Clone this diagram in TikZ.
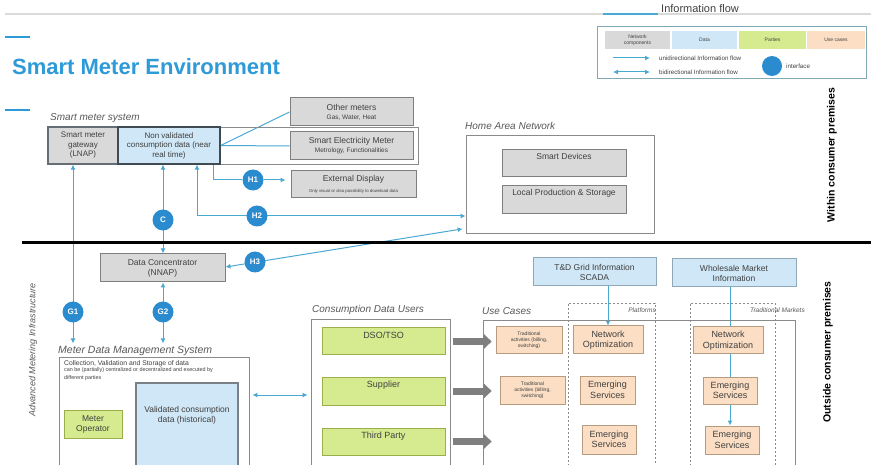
\documentclass[tikz,border=0pt]{standalone}
\usepackage{fontspec}
\setmainfont{Liberation Sans}
\usetikzlibrary{arrows.meta,calc}

\definecolor{flow}{HTML}{4AA9D3}
\definecolor{ifc}{HTML}{2A8BCF}
\definecolor{titleblue}{HTML}{2E9AD8}
\definecolor{netgray}{HTML}{D9D9D9}
\definecolor{netborder}{HTML}{7F7F7F}
\definecolor{datablue}{HTML}{CFE7F6}
\definecolor{databorder}{HTML}{8FA9B8}
\definecolor{darkborder}{HTML}{3F4A52}
\definecolor{partygreen}{HTML}{D6EB8F}
\definecolor{partyborder}{HTML}{9AAF4C}
\definecolor{usepeach}{HTML}{FBDEC4}
\definecolor{useborder}{HTML}{B59C80}
\definecolor{framegray}{HTML}{8A8A8A}
\definecolor{textgray}{HTML}{404040}
\definecolor{labelgray}{HTML}{595959}
\definecolor{bigarrowgray}{HTML}{7F7F7F}
\definecolor{rulegray}{HTML}{DADADA}
\definecolor{legendframe}{HTML}{7FA9B6}

\newcommand\fsz[2]{\fontsize{#1}{#2}\selectfont}

\pgfdeclarelayer{paper}
\pgfdeclarelayer{wires}
\pgfsetlayers{paper,wires,main}

\tikzset{
  frame/.style={draw=framegray, line width=0.8pt},
  graybox/.style={draw=netborder, fill=netgray, line width=1pt},
  bluebox/.style={draw=databorder, fill=datablue, line width=1pt},
  darkbluebox/.style={draw=darkborder, fill=datablue, line width=1.2pt},
  greenbox/.style={draw=partyborder, fill=partygreen, line width=1pt},
  peachbox/.style={draw=useborder, fill=usepeach, line width=1pt},
  dashbox/.style={draw=framegray, line width=0.8pt, dash pattern=on 2pt off 2pt},
  ifcircle/.style={circle, fill=ifc, text=white, font=\fsz{8}{9}\bfseries,
    minimum size=21pt, inner sep=0pt},
  flowline/.style={draw=flow, line width=1pt},
  flowarrow/.style={flowline, -{Latex[length=5pt,width=5pt]}},
  flowboth/.style={flowline, {Latex[length=5pt,width=5pt]}-{Latex[length=5pt,width=5pt]}},
  bigarrow/.style={draw=bigarrowgray, line width=7pt,
    -{Triangle[length=8pt,width=15pt]}},
  seclabel/.style={anchor=base west, inner sep=0pt, font=\fsz{10}{12}\itshape, text=labelgray},
  boxtext/.style={font=\fsz{8.5}{10}},
  usetext/.style={font=\fsz{9}{10.5}},
  tinytext/.style={font=\fsz{5}{6}},
}

\begin{document}
\begin{tikzpicture}[x=1pt, y=-1pt,
  every node/.style={align=center, inner sep=1pt, text=textgray}]
\clip (0,0) rectangle (871,465);
\begin{pgfonlayer}{paper}
\fill[white] (0,0) rectangle (871,465);
\end{pgfonlayer}

% ---------- header ----------
\draw[rulegray, line width=1.5pt] (5,14) -- (871,14);
\draw[flow, line width=1.2pt] (603,14) -- (658,14);
\node[anchor=base west, inner sep=0pt, font=\fsz{11}{13}] (flowtitle) at (661,13) {Information flow};
\draw[titleblue, line width=2pt] (5,37) -- (30,37);
\draw[titleblue, line width=2pt] (5,110) -- (30,110);
\node[anchor=west, inner sep=0pt, font=\fsz{22}{26}\bfseries, text=titleblue] (title) at (12,67) {Smart Meter Environment};

% ---------- legend ----------
\node[draw=legendframe, line width=1pt, minimum width=269pt, minimum height=52pt] (legend) at (731.5,53) {};
\node[fill=netgray, minimum width=65pt, minimum height=18pt, font=\fsz{5}{6}] (lgnet) at (637.5,40) {Network\\components};
\node[fill=datablue, minimum width=65pt, minimum height=18pt, font=\fsz{5}{6}] (lgdata) at (704.5,40) {Data};
\node[fill=partygreen, minimum width=67pt, minimum height=18pt, font=\fsz{5}{6}] (lgparty) at (772.5,40) {Parties};
\node[fill=usepeach, minimum width=58pt, minimum height=18pt, font=\fsz{5}{6}] (lguse) at (836,40) {Use cases};
\coordinate (lua) at (613,58);
\coordinate (lub) at (650,58);
\coordinate (lba) at (613,72);
\coordinate (lbb) at (650,72);
\draw[flowarrow] (lua) -- (lub);
\draw[flowboth] (lba) -- (lbb);
\node[anchor=west, inner sep=0pt, font=\fsz{6.2}{7}] (lgunitxt) at (659,58) {unidirectional Information flow};
\node[anchor=west, inner sep=0pt, font=\fsz{6.2}{7}] (lgbitxt) at (659,72) {bidirectional Information flow};
\node[circle, fill=ifc, minimum size=20pt, inner sep=0pt] (lgifc) at (772,66) {};
\node[anchor=west, inner sep=0pt, font=\fsz{6.2}{7}] (lgifctxt) at (786,66) {interface};

% ---------- premises divider ----------
\draw[black, line width=3pt] (22,243) -- (871,243);
\node[rotate=90, font=\fsz{10.5}{12}\bfseries, text=black] (within) at (832,155) {Within consumer premises};
\node[rotate=90, font=\fsz{10.5}{12}\bfseries, text=black] (outside) at (828,352) {Outside consumer premises};
\node[rotate=90, font=\fsz{9}{11}\itshape, text=labelgray] (ami) at (33,350) {Advanced Metering Infrastructure};

% ---------- smart meter system ----------
\node[seclabel] (smsyslbl) at (50,121) {Smart meter system};
\node[frame, minimum width=370pt, minimum height=37pt] (smsys) at (233,145.5) {};
\node[graybox, line width=1.3pt, draw=darkborder!80, minimum width=70pt, minimum height=37pt, font=\fsz{8}{9.5}] (gateway) at (83,145.5) {Smart meter\\gateway\\(LNAP)};
\node[darkbluebox, minimum width=102pt, minimum height=37pt, font=\fsz{8}{9.5}] (nvdata) at (169,145.5) {Non validated\\consumption data (near\\real time)};
\node[graybox, minimum width=123pt, minimum height=28pt, boxtext] (othermeters) at (351.5,112) {Other meters\\[-1pt]{\fsz{6.5}{7}Gas, Water, Heat}};
\node[graybox, minimum width=123pt, minimum height=28pt, boxtext] (sem) at (351.5,146) {Smart Electricity Meter\\[-1pt]{\fsz{6.5}{7}Metrology, Functionalities}};
\node[graybox, minimum width=125pt, minimum height=27pt, boxtext] (extdisp) at (353.5,184.5) {External Display\\[1pt]{\fsz{4.3}{5}Only visual or also possibility to download data}};

% ---------- home area network ----------
\node[seclabel] (hanlbl) at (465,130) {Home Area Network};
\node[frame, minimum width=188pt, minimum height=98pt] (han) at (560,184) {};
\node[graybox, minimum width=124pt, minimum height=27pt] (smartdev) at (564,163.5) {};
\node[boxtext, anchor=north] (smartdevtxt) at ($(smartdev.north)+(0,3)$) {Smart Devices};
\node[graybox, minimum width=124pt, minimum height=28pt] (localprod) at (564,200) {};
\node[boxtext, anchor=north] (localprodtxt) at ($(localprod.north)+(0,3)$) {Local Production \& Storage};

% ---------- data concentrator ----------
\node[graybox, minimum width=125pt, minimum height=28pt, boxtext] (dc) at (162.5,268) {Data Concentrator\\(NNAP)};

% ---------- meter data management system ----------
\node[seclabel, font=\fsz{10.5}{12}\itshape] (mdmslbl) at (58,354) {Meter Data Management System};
\node[frame, minimum width=190pt, minimum height=123pt] (mdms) at (154,418.5) {};
\node[anchor=north west, inner sep=0pt, align=left, font=\fsz{6.8}{8}] (mdmsnote) at (64,360) {Collection, Validation and Storage of data};
\node[anchor=north west, inner sep=0pt, align=left, font=\fsz{5.4}{7.5}] (mdmsnote2) at ($(mdmsnote.south west)+(0,1)$) {can be (partially) centralized or decentralized and executed by\\different parties};
\node[greenbox, minimum width=58pt, minimum height=28pt, boxtext] (meterop) at (93,424) {Meter\\Operator};
\node[darkbluebox, draw=darkborder!70, minimum width=102pt, minimum height=97pt] (valdata) at (187,431.5) {};
\node[boxtext] (valdatatxt) at (187,415) {Validated consumption\\data (historical)};

% ---------- consumption data users ----------
\node[seclabel] (cdulbl) at (312,313) {Consumption Data Users};
\node[frame, minimum width=139pt, minimum height=161pt] (cdu) at (380.5,399.5) {};
\node[greenbox, minimum width=123pt, minimum height=27pt] (dso) at (383.5,341.5) {};
\node[usetext, anchor=north] (dsotxt) at ($(dso.north)+(0,3)$) {DSO/TSO};
\node[greenbox, minimum width=123pt, minimum height=28pt] (supplier) at (383.5,391) {};
\node[usetext, anchor=north] (suppliertxt) at ($(supplier.north)+(0,3)$) {Supplier};
\node[greenbox, minimum width=123pt, minimum height=27pt] (third) at (383.5,441.5) {};
\node[usetext, anchor=north] (thirdtxt) at ($(third.north)+(0,3)$) {Third Party};

% ---------- use cases ----------
\node[seclabel] (uclbl) at (482,315) {Use Cases};
\node[frame, minimum width=312pt, minimum height=160pt] (usecases) at (639,400) {};
\node[dashbox, minimum width=87pt, minimum height=177pt] (platforms) at (611.5,391.5) {};
\node[dashbox, minimum width=85pt, minimum height=177pt] (tradmkts) at (732.5,391.5) {};
\node[anchor=base east, inner sep=0pt, font=\fsz{6.5}{7}\itshape, text=labelgray] (platlbl) at (656,313) {Platforms};
\node[anchor=base east, inner sep=0pt, font=\fsz{6.5}{7}\itshape, text=labelgray] (tradlbl) at (805,313) {Traditional Markets};
\node[bluebox, minimum width=123pt, minimum height=28pt, boxtext] (scada) at (594.5,272) {T\&D Grid Information\\SCADA};
\node[bluebox, minimum width=124pt, minimum height=28pt, boxtext] (wholesale) at (734,273) {Wholesale Market\\Information};
\node[peachbox, minimum width=66pt, minimum height=27pt, tinytext] (trad1) at (529,340.5) {Traditional\\activities (billing,\\switching)};
\node[peachbox, minimum width=65pt, minimum height=28pt, tinytext] (trad2) at (532.5,390) {Traditional\\activities (billing,\\switching)};
\node[peachbox, minimum width=70pt, minimum height=28pt, usetext] (no1) at (608,340) {Network\\Optimization};
\node[peachbox, minimum width=55pt, minimum height=28pt, usetext] (es1) at (607.5,390) {Emerging\\Services};
\node[peachbox, minimum width=54pt, minimum height=29pt, usetext] (es2) at (609,439.5) {Emerging\\Services};
\node[peachbox, minimum width=70pt, minimum height=27pt, usetext] (no2) at (728,340.5) {Network\\Optimization};
\node[peachbox, minimum width=54pt, minimum height=27pt, usetext] (esa) at (730,390.5) {Emerging\\Services};
\node[peachbox, minimum width=54pt, minimum height=28pt, usetext] (esb) at (732,440) {Emerging\\Services};

% ---------- interface markers ----------
\node[ifcircle] (h1) at (253,180) {H1};
\node[ifcircle] (h2) at (257,216) {H2};
\node[ifcircle] (cif) at (163,220) {C};
\node[ifcircle] (h3) at (255,262) {H3};
\node[ifcircle] (g1) at (73,312) {G1};
\node[ifcircle] (g2) at (163,312) {G2};

% ---------- information flows (under the boxes) ----------
\begin{pgfonlayer}{wires}
\draw[flowline] (nvdata.east) -- (othermeters.west);
\draw[flowline] (nvdata.east) -- (sem.west);
\draw[flowline] ($(nvdata.south east)+(-7,0)$) |- (h1);
\draw[flowarrow, shorten >=5pt] (h1) -- (extdisp.west |- h1);
\draw[flowboth] ($(nvdata.south)+(28,0)$) |- (han.west |- h2);
\draw[flowboth] (cif |- nvdata.south) -- (cif |- dc.north);
\draw[flowboth, shorten >=3pt] (dc.east |- 0,267) -- ($(han.south west)+(0,-5)$);
\draw[flowboth, shorten >=3pt] (g1 |- gateway.south) -- (g1 |- mdmslbl.north);
\draw[flowboth, shorten >=3pt] (g2 |- dc.south) -- (g2 |- mdmslbl.north);
\draw[flowboth, shorten <=3pt, shorten >=3pt] (mdms.east |- 0,395) -- (cdu.west |- 0,395);
\draw[flowarrow] (no1.north |- scada.south) -- (no1.north);
\draw[flowline] (esa |- wholesale.south) -- (esa |- no2.north);
\draw[flowline] (esa |- no2.south) -- (esa.north);
\draw[flowarrow] (esa.south) -- (esa |- esb.north);
\end{pgfonlayer}

% ---------- users to use cases ----------
\draw[bigarrow] ($(dso.east)+(7,0)$) -- ($(usecases.west |- dso.east)+(9,0)$);
\draw[bigarrow] ($(supplier.east)+(7,0)$) -- ($(usecases.west |- supplier.east)+(9,0)$);
\draw[bigarrow] ($(third.east)+(7,0)$) -- ($(usecases.west |- third.east)+(9,0)$);
\end{tikzpicture}
\end{document}
